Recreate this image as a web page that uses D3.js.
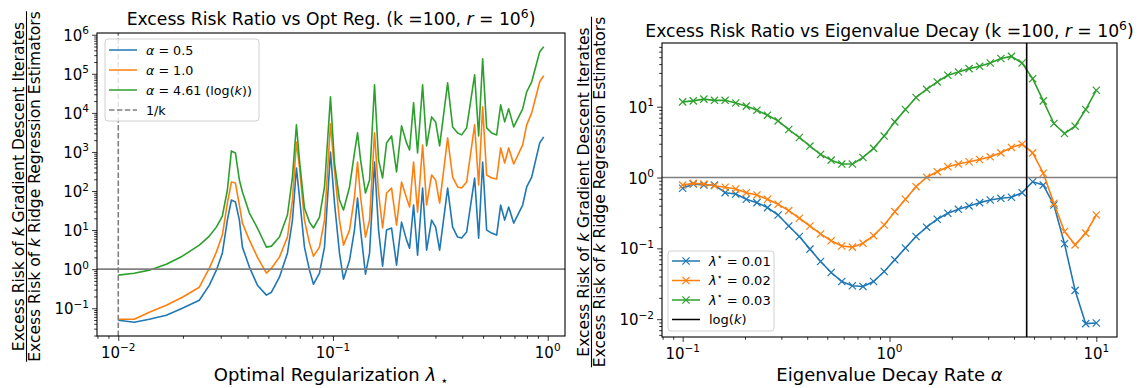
<!DOCTYPE html>
<html>
<head>
<meta charset="utf-8">
<script src="https://cdn.jsdelivr.net/npm/d3@7/dist/d3.min.js"></script>
<style>
  body { margin: 0; background: #fff; }
  svg { font-family: "DejaVu Sans", sans-serif; }
</style>
</head>
<body>
<svg id="fig" width="1142" height="388"></svg>
<script>
// ---- left panel: excess risk ratio vs optimal regularization ----
const lambdas = [0.0100,0.01187,0.01395,0.01674,0.01988,0.02385,0.02656,0.02863,0.03053,0.03222,
  0.03364,0.03512,0.03665,0.03786,0.04080,0.04446,0.04898,0.05168,0.05631,0.06136,
  0.06474,0.06757,0.06979,0.07364,0.07770,0.08111,0.08651,0.09128,0.09734,0.1016,
  0.1072,0.1119,0.1194,0.1259,0.1301,0.1344,0.1417,0.1480,0.1561,0.1630,
  0.1702,0.1776,0.1874,0.1977,0.2086,0.2201,0.2273,0.2373,0.2477,0.2614,
  0.2729,0.2879,0.3006,0.3138,0.3419,0.3607,0.3806,0.3973,0.4192,0.4567,
  0.4768,0.4977,0.5195,0.5482,0.5784,0.6038,0.6303,0.6580,0.6943,0.7644,
  0.7981,0.8422,0.9180,0.9581];
const ratioAlpha05 = [0.0492,0.0438,0.0522,0.0662,0.100,0.160,0.389,0.943,2.57,18.0,
  58.8,52.2,18.0,3.66,1.13,0.389,0.216,0.257,0.624,2.57,
  18.0,389,70.2,3.66,0.943,0.412,0.789,3.66,1000,49.2,
  2.57,0.554,1.70,10.0,66.2,10.0,0.744,2.57,554,10.0,
  1.19,10.0,11.3,1.27,16.0,5.54,3.45,43.8,2.29,119,
  3.07,18.0,11.9,3.07,119,11.9,6.62,6.24,8.89,215,
  6.24,554,10.0,8.38,7.45,43.8,18.0,38.9,15.1,43.8,
  127,228,1702,2424];
const ratioAlpha10 = [0.0522,0.0522,0.0789,0.119,0.191,0.345,1.06,2.73,7.45,49.2,
  170,160,43.8,15.1,5.54,2.03,0.789,1.06,2.03,6.62,
  58.8,1804,412,18.0,4.64,2.15,3.66,18.0,5224,345,
  18.0,4.12,10.0,70.2,554,70.2,6.62,18.0,3070,88.9,
  11.3,88.9,119,13.4,170,66.2,38.9,554,28.9,1511,
  43.8,257,191,49.2,2285,228,127,119,170,4924,
  143,14250,257,215,203,1267,522,1267,492,1511,
  4924,10000,62370,88900];
const ratioAlphaLogK = [0.702,0.789,0.943,1.34,2.15,4.12,7.02,11.9,22.9,106,
  1062,942,191,94.2,27.3,11.3,3.66,3.89,6.62,24.3,
  228,4924,624,36.6,16.0,11.3,21.5,127,25700,522,
  58.8,32.6,127,942,3070,624,88.9,191,52240,624,
  215,1702,2570,307,4642,1702,1125,18050,942,52240,
  1425,7890,5880,1425,58750,4375,3070,2730,4125,94200,
  2570,242500,4125,3070,2730,16030,5880,12670,4375,12670,
  34500,62370,366400,492000];
const invK = 0.01;

// ---- right panel: excess risk ratio vs eigenvalue decay ----
const alphas = [0.1,0.1125,0.1266,0.1425,0.1604,0.1805,0.2031,0.2286,0.2572,0.2894,
  0.3257,0.3665,0.4125,0.4642,0.5223,0.5878,0.6615,0.7443,0.8376,0.9427,
  1.0608,1.1938,1.3434,1.5118,1.7013,1.9145,2.1544,2.4245,2.7283,3.0703,
  3.4551,3.8881,4.3755,4.9239,5.5410,6.2355,7.0170,7.8965,8.8862,10];
const ratioLam001 = [0.705,0.809,0.783,0.783,0.611,0.586,0.493,0.442,0.376,0.296,
  0.207,0.147,0.0975,0.0652,0.0456,0.0340,0.0296,0.0290,0.0340,0.0471,
  0.0689,0.101,0.147,0.199,0.258,0.313,0.356,0.397,0.442,0.482,
  0.509,0.526,0.611,0.873,0.783,0.410,0.116,0.0255,0.00865,0.00883];
const ratioLam002 = [0.783,0.828,0.809,0.767,0.728,0.689,0.611,0.568,0.493,0.419,
  0.341,0.266,0.207,0.160,0.128,0.108,0.104,0.118,0.151,0.214,
  0.330,0.493,0.743,1.01,1.21,1.42,1.55,1.67,1.80,1.96,
  2.23,2.66,2.96,2.23,1.15,0.433,0.173,0.112,0.164,0.296];
const ratioLam003 = [11.7,12.1,12.8,12.3,12.3,11.3,10.2,8.93,7.59,6.31,
  4.76,3.68,2.78,2.12,1.76,1.55,1.55,1.92,2.58,3.85,
  6.11,9.12,13.5,17.6,22.4,27.8,30.9,34.5,37.2,41.4,
  47.9,51.4,41.4,24.9,12.1,5.79,4.19,5.31,9.12,17.1];
const logK = 4.605;

const C = { blue: '#1f77b4', orange: '#ff7f0e', green: '#2ca02c' };
const svg = d3.select('#fig');

function logDomain(vals) {
  const lo = Math.log10(d3.min(vals)), hi = Math.log10(d3.max(vals));
  const pad = (hi - lo) * 0.05;
  return [Math.pow(10, lo - pad), Math.pow(10, hi + pad)];
}

function decades(domain) {
  const out = [];
  for (let k = Math.ceil(Math.log10(domain[0])); k <= Math.floor(Math.log10(domain[1])); k++) out.push(k);
  return out;
}

function minorTicks(domain) {
  const out = [];
  const k0 = Math.floor(Math.log10(domain[0])), k1 = Math.ceil(Math.log10(domain[1]));
  for (let k = k0; k <= k1; k++) {
    for (let m = 2; m <= 9; m++) {
      const v = m * Math.pow(10, k);
      if (v >= domain[0] && v <= domain[1]) out.push(v);
    }
  }
  return out;
}

function powLabel(sel, e) {
  sel.append('tspan').text('10');
  sel.append('tspan').attr('dy', '-0.62em').attr('font-size', '0.7em')
    .text(e < 0 ? '\u2212' + (-e) : String(e));
}

// rich text: parts are [text, style] where style in {i, sup, sub}
function rich(sel, parts) {
  let shift = 0;
  parts.forEach(([t, s]) => {
    const ts = sel.append('tspan').text(t);
    const small = s && (s.includes('sup') || s.includes('sub'));
    let target = 0;
    if (s && s.includes('sup')) target = -0.42;
    if (s && s.includes('sub')) target = 0.22;
    if (small) ts.attr('font-size', '0.72em');
    if (s && s.includes('i')) ts.attr('font-style', 'italic');
    if (target !== shift) ts.attr('dy', ((target - shift) / (small ? 0.72 : 1)) + 'em');
    shift = target;
  });
}

function panel(p) {
  const g = svg.append('g');
  const x = d3.scaleLog().domain(p.xDomain).range([p.left, p.right]);
  const y = d3.scaleLog().domain(p.yDomain).range([p.bottom, p.top]);
  const id = 'clip' + p.left;
  svg.append('clipPath').attr('id', id).append('rect')
    .attr('x', p.left).attr('y', p.top).attr('width', p.right - p.left).attr('height', p.bottom - p.top);
  const plot = g.append('g').attr('clip-path', `url(#${id})`);

  // ticks
  const xMaj = decades(p.xDomain).map(k => Math.pow(10, k));
  const yMaj = decades(p.yDomain).map(k => Math.pow(10, k));
  const ax = (axis, tr) => {
    const a = g.append('g').attr('transform', tr).call(axis);
    a.select('.domain').remove();
    a.selectAll('line').attr('stroke', '#000').attr('stroke-width', 0.8);
    return a;
  };
  ax(d3.axisBottom(x).tickValues(minorTicks(p.xDomain)).tickSize(2.8).tickFormat(''), `translate(0,${p.bottom})`);
  ax(d3.axisBottom(x).tickValues(xMaj).tickSize(4.9).tickFormat(''), `translate(0,${p.bottom})`);
  ax(d3.axisLeft(y).tickValues(minorTicks(p.yDomain)).tickSize(2.8).tickFormat(''), `translate(${p.left},0)`);
  ax(d3.axisLeft(y).tickValues(yMaj).tickSize(4.9).tickFormat(''), `translate(${p.left},0)`);

  xMaj.forEach(v => {
    powLabel(g.append('text').attr('x', x(v)).attr('y', p.bottom + 22)
      .attr('text-anchor', 'middle').attr('font-size', 15), Math.round(Math.log10(v)));
  });
  yMaj.forEach(v => {
    powLabel(g.append('text').attr('x', p.left - 8).attr('y', y(v) + 6)
      .attr('text-anchor', 'end').attr('font-size', 15), Math.round(Math.log10(v)));
  });

  // title
  rich(g.append('text').attr('x', (p.left + p.right) / 2).attr('y', p.titleY)
    .attr('text-anchor', 'middle').attr('font-size', 17.2), p.title);
  // x label
  rich(g.append('text').attr('x', (p.left + p.right) / 2).attr('y', 381)
    .attr('text-anchor', 'middle').attr('font-size', 18), p.xLabel);
  // y label as a fraction
  const cy = (p.top + p.bottom) / 2 + 2;
  const num = g.append('text').attr('transform', `translate(${p.left - 73},${cy}) rotate(-90)`)
    .attr('text-anchor', 'middle').attr('font-size', 15.5);
  rich(num, [['Excess Risk of '], ['k', 'i'], [' Gradient Descent Iterates']]);
  const den = g.append('text').attr('transform', `translate(${p.left - 57},${cy}) rotate(-90)`)
    .attr('text-anchor', 'middle').attr('font-size', 15.5);
  rich(den, [['Excess Risk of '], ['k', 'i'], [' Ridge Regression Estimators']]);
  const len = Math.max(num.node().getComputedTextLength(), den.node().getComputedTextLength());
  g.append('line').attr('x1', p.left - 70.5).attr('x2', p.left - 70.5)
    .attr('y1', cy - len / 2).attr('y2', cy + len / 2)
    .attr('stroke', '#000').attr('stroke-width', 1.1);

  return { g, x, y, plot, frame: () => g.append('rect')
    .attr('x', p.left).attr('y', p.top).attr('width', p.right - p.left).attr('height', p.bottom - p.top)
    .attr('fill', 'none').attr('stroke', '#000').attr('stroke-width', 1.1) };
}

const crossPath = 'M-3.6,-3.6L3.6,3.6M-3.6,3.6L3.6,-3.6';

function legend(g, x0, y0, w, h, fs, items) {
  g.append('rect').attr('x', x0).attr('y', y0).attr('width', w).attr('height', h)
    .attr('rx', 3).attr('fill', '#fff').attr('fill-opacity', 0.8)
    .attr('stroke', '#d0d0d0').attr('stroke-width', 1);
  items.forEach(it => {
    const yy = y0 + it.dy;
    g.append('line').attr('x1', x0 + 4).attr('x2', x0 + 32).attr('y1', yy).attr('y2', yy)
      .attr('stroke', it.color).attr('stroke-width', 1.5)
      .attr('stroke-dasharray', it.dash || null);
    if (it.marker) {
      g.append('path').attr('d', crossPath).attr('transform', `translate(${x0 + 18},${yy})`)
        .attr('stroke', it.color).attr('stroke-width', 1.2).attr('fill', 'none');
    }
    rich(g.append('text').attr('x', x0 + 41).attr('y', yy + 4.5).attr('font-size', fs), it.label);
  });
}

// ---- left panel ----
const L = panel({
  left: 97, right: 565, top: 33, bottom: 336,
  xDomain: logDomain(lambdas),
  yDomain: logDomain([...ratioAlpha05, ...ratioAlpha10, ...ratioAlphaLogK]),
  titleY: 25,
  title: [['Excess Risk Ratio vs Opt Reg. (k =100, '], ['r', 'i'], [' = 10'], ['6', 'sup'], [')']],
  xLabel: [['Optimal Regularization '], ['\u03bb', 'i'], [' \u22c6', 'sub']]
});
[[ratioAlpha05, C.blue], [ratioAlpha10, C.orange], [ratioAlphaLogK, C.green]].forEach(([vals, col]) => {
  L.plot.append('path').datum(lambdas.map((l, i) => [l, vals[i]]))
    .attr('d', d3.line().x(d => L.x(d[0])).y(d => L.y(d[1])))
    .attr('fill', 'none').attr('stroke', col).attr('stroke-width', 1.6).attr('stroke-linejoin', 'round');
});
L.plot.append('line').attr('x1', L.x.range()[0]).attr('x2', L.x.range()[1])
  .attr('y1', L.y(1)).attr('y2', L.y(1)).attr('stroke', '#808080').attr('stroke-width', 1.6);
L.plot.append('line').attr('x1', L.x(invK)).attr('x2', L.x(invK))
  .attr('y1', L.y.range()[0]).attr('y2', L.y.range()[1])
  .attr('stroke', '#808080').attr('stroke-width', 1.6).attr('stroke-dasharray', '5.5,2.4');
legend(L.g, 105, 39, 154, 82, 12.7, [
  { dy: 11, color: C.blue, label: [['\u03b1', 'i'], [' = 0.5']] },
  { dy: 31, color: C.orange, label: [['\u03b1', 'i'], [' = 1.0']] },
  { dy: 51, color: C.green, label: [['\u03b1', 'i'], [' = 4.61 (log('], ['k', 'i'], ['))']] },
  { dy: 71, color: '#808080', dash: '5.5,2.4', label: [['1/k']] }
]);
L.frame();

// ---- right panel ----
const R = panel({
  left: 662, right: 1117, top: 43, bottom: 337,
  xDomain: logDomain(alphas),
  yDomain: logDomain([...ratioLam001, ...ratioLam002, ...ratioLam003]),
  titleY: 37,
  title: [['Excess Risk Ratio vs Eigenvalue Decay (k =100, '], ['r', 'i'], [' = 10'], ['6', 'sup'], [')']],
  xLabel: [['Eigenvalue Decay Rate '], ['\u03b1', 'i']]
});
[[ratioLam001, C.blue], [ratioLam002, C.orange], [ratioLam003, C.green]].forEach(([vals, col]) => {
  const pts = alphas.map((a, i) => [a, vals[i]]);
  R.plot.append('path').datum(pts)
    .attr('d', d3.line().x(d => R.x(d[0])).y(d => R.y(d[1])))
    .attr('fill', 'none').attr('stroke', col).attr('stroke-width', 1.6).attr('stroke-linejoin', 'round');
  R.plot.selectAll(null).data(pts).enter().append('path')
    .attr('d', crossPath)
    .attr('transform', d => `translate(${R.x(d[0])},${R.y(d[1])})`)
    .attr('fill', 'none').attr('stroke', col).attr('stroke-width', 1.2);
});
R.plot.append('line').attr('x1', R.x.range()[0]).attr('x2', R.x.range()[1])
  .attr('y1', R.y(1)).attr('y2', R.y(1)).attr('stroke', '#808080').attr('stroke-width', 1.6);
R.plot.append('line').attr('x1', R.x(logK)).attr('x2', R.x(logK))
  .attr('y1', R.y.range()[0]).attr('y2', R.y.range()[1])
  .attr('stroke', '#000').attr('stroke-width', 1.6);
legend(R.g, 668, 251, 106, 80, 13, [
  { dy: 10, color: C.blue, marker: true, label: [['\u03bb', 'i'], ['\u22c6', 'sup'], [' = 0.01']] },
  { dy: 29.5, color: C.orange, marker: true, label: [['\u03bb', 'i'], ['\u22c6', 'sup'], [' = 0.02']] },
  { dy: 49, color: C.green, marker: true, label: [['\u03bb', 'i'], ['\u22c6', 'sup'], [' = 0.03']] },
  { dy: 68.5, color: '#000', label: [['log('], ['k', 'i'], [')']] }
]);
R.frame();
</script>
</body>
</html>
